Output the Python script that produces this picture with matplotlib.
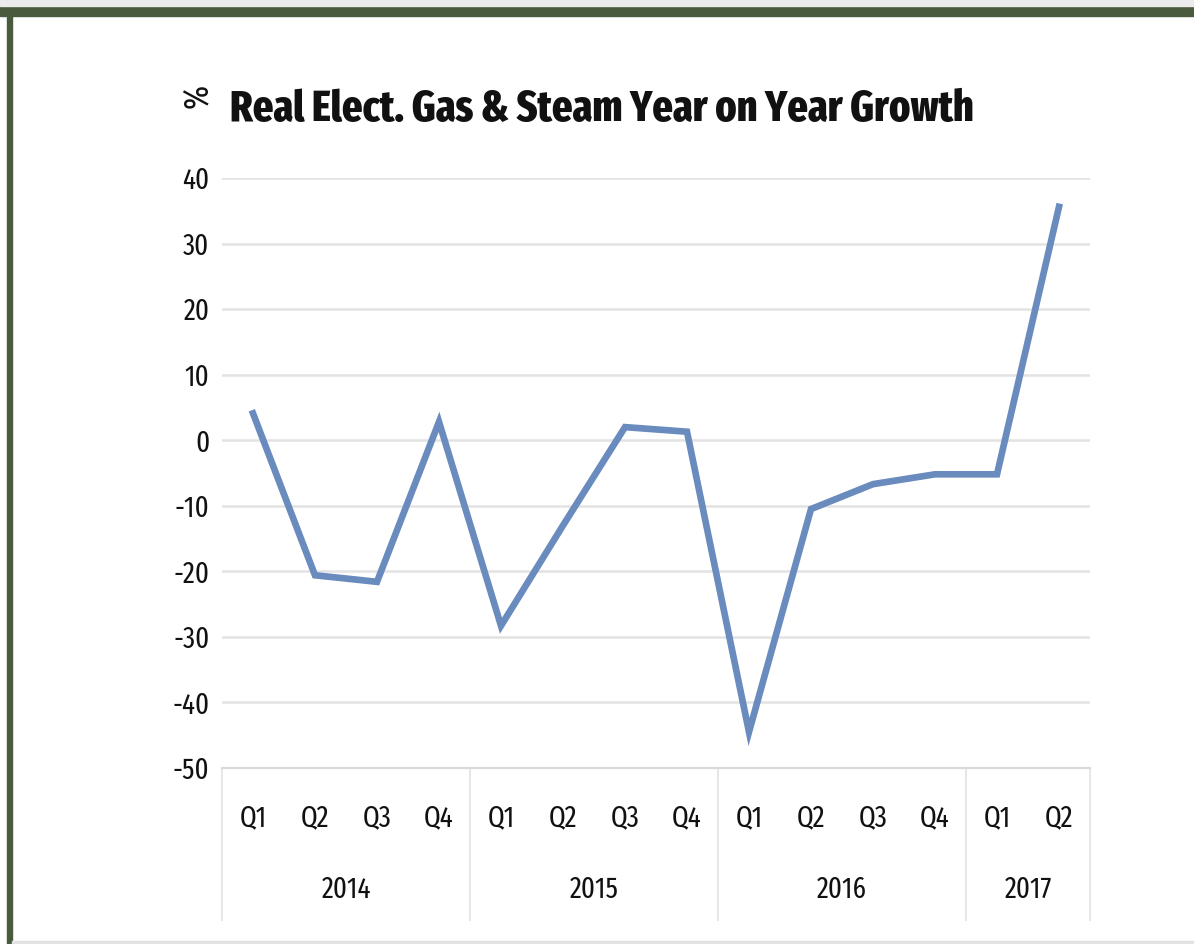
import matplotlib.pyplot as plt
import matplotlib.transforms as mtransforms
from matplotlib.patches import Rectangle
import numpy as np

quarters = ['Q1', 'Q2', 'Q3', 'Q4', 'Q1', 'Q2', 'Q3', 'Q4',
            'Q1', 'Q2', 'Q3', 'Q4', 'Q1', 'Q2']
years = ['2014', '2015', '2016', '2017']
quarters_per_year = [4, 4, 4, 2]
growth = [4.1, -20.6, -21.6, 2.8, -28.3, -13.0, 2.0, 1.3,
          -44.5, -10.5, -6.7, -5.2, -5.2, 35.6]

font = ['Fira Sans Extra Condensed', 'DejaVu Sans']
plt.rcParams['axes.unicode_minus'] = False
line_col = '#6a8bbd'
grid_col = '#e3e3e3'
frame_col = '#4a5a3c'
txt_col = '#111111'

W, H = 1194, 944
fig = plt.figure(figsize=(W / 100, H / 100), dpi=100)
fig.patch.set_facecolor('white')

# dark frame along the top and left edges, thin grey rule at the bottom
fig.patches.append(Rectangle((0, 1 - 16 / H), 1, 10 / H, transform=fig.transFigure,
                             color=frame_col, zorder=0))
fig.patches.append(Rectangle((7 / W, 0), 5 / W, 1 - 6 / H, transform=fig.transFigure,
                             color=frame_col, zorder=0))
fig.patches.append(Rectangle((0, 1 - 6 / H), 1, 6 / H, transform=fig.transFigure,
                             color='#ececec', zorder=0))
fig.patches.append(Rectangle((12 / W, 0), 1, 3 / H, transform=fig.transFigure,
                             color='#e2e2e2', zorder=0))

ax = fig.add_axes([222 / W, 1 - 768 / H, (1090 - 222) / W, (768 - 178) / H])
x = np.arange(len(growth))
ax.plot(x, growth, color=line_col, lw=4.8, solid_joinstyle='miter', zorder=3)

ax.set_xlim(-0.5, len(growth) - 0.5)
ax.set_ylim(-50, 40)
ax.set_yticks(np.arange(-50, 41, 10))
ax.yaxis.grid(True, color=grid_col, lw=1.8)
ax.set_axisbelow(True)
for s in ['top', 'right', 'left']:
    ax.spines[s].set_visible(False)
ax.spines['bottom'].set_color('#d9d9d9')
ax.spines['bottom'].set_linewidth(1.6)

ax.set_xticks(x)
ax.set_xticklabels(quarters)
ax.tick_params(axis='both', length=0, labelsize=21, colors=txt_col)
ax.tick_params(axis='x', pad=36)
ax.tick_params(axis='y', pad=9)
for lbl in ax.get_xticklabels() + ax.get_yticklabels():
    lbl.set_family(font)
for lbl in ax.get_xticklabels():
    lbl.set_va('center')

# year groups below the quarter labels, with separators between them
trans = mtransforms.blended_transform_factory(ax.transData, ax.transAxes)
sep_depth = -(920 - 768) / (768 - 178)
edges = np.concatenate([[0], np.cumsum(quarters_per_year)]) - 0.5
for e in edges:
    ax.plot([e, e], [0, sep_depth], transform=trans, color='#e6e6e6', lw=1.4, clip_on=False)
for yr, a, b in zip(years, edges[:-1], edges[1:]):
    ax.text((a + b) / 2, -(890 - 768) / (768 - 178), yr, transform=trans, ha='center',
            va='center', fontsize=21, family=font, color=txt_col)

title = fig.text(230 / W, 1 - 121 / H, 'Real Elect. Gas & Steam Year on Year Growth',
                 fontsize=40, fontweight=800, family=font, color='#111111', va='baseline')
# scale the title so it spans the width of the heading line
r = fig.canvas.get_renderer()
tw = title.get_window_extent(r).width
title.set_fontsize(40 * (976 - 230) / tw)

fig.text(197 / W, 1 - 96 / H, '%', rotation=90, fontsize=25, family=font,
         color=txt_col, ha='center', va='center')

fig.savefig('out.png', dpi=100)
